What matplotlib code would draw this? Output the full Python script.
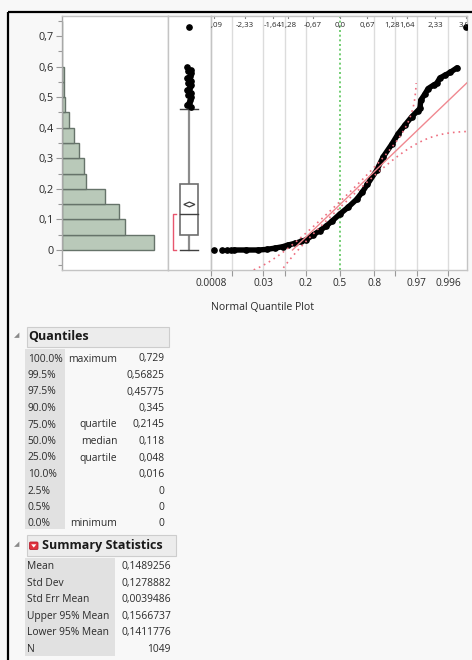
import matplotlib
matplotlib.use("Agg")
import matplotlib.pyplot as plt
import matplotlib.transforms as mtransforms
from matplotlib.patches import Rectangle, Polygon, FancyBboxPatch
from matplotlib.ticker import FixedLocator
import numpy as np
from statistics import NormalDist

plt.rcParams['font.family'] = ['Open Sans', 'DejaVu Sans']

W, H = 472, 660

# histogram, bin width 0.05 (counts)
bin_starts = [0.0, 0.05, 0.10, 0.15, 0.20, 0.25, 0.30, 0.35, 0.40, 0.45, 0.50, 0.55, 0.60, 0.65, 0.70]
bin_counts = [282, 192, 173, 131, 74, 66, 51, 38, 21, 8, 7, 5, 0, 0, 1]

# quantiles table
quant_levels = ["100.0%", "99.5%", "97.5%", "90.0%", "75.0%", "50.0%", "25.0%", "10.0%", "2.5%", "0.5%", "0.0%"]
quant_names = ["maximum", "", "", "", "quartile", "median", "quartile", "", "", "", "minimum"]
quant_values = [0.729, 0.56825, 0.45775, 0.345, 0.2145, 0.118, 0.048, 0.016, 0, 0, 0]

# summary statistics table
summary_labels = ["Mean", "Std Dev", "Std Err Mean", "Upper 95% Mean", "Lower 95% Mean", "N"]
summary_values = [0.1489256, 0.1278882, 0.0039486, 0.1566737, 0.1411776, 1049]

# outlier box plot
whisker_low = 0.0
whisker_high = 0.4625
shortest_half = [0.0, 0.117]
outliers = [0.729, 0.597, 0.590, 0.585, 0.578, 0.570, 0.565, 0.561, 0.553, 0.545, 0.540,
            0.536, 0.528, 0.523, 0.514, 0.507, 0.499, 0.490, 0.481, 0.474, 0.468]

# normal quantile plot (normal quantile, value)
qq_z = [-2.59, -2.3, -2.0, -1.8, -1.6, -1.4, -1.28, -1.1, -0.95, -0.84, -0.67, -0.5, -0.35,
        -0.2, 0.0, 0.2, 0.41, 0.55, 0.67, 0.9, 1.06, 1.28, 1.43, 1.6, 1.76, 1.9, 1.96,
        1.98, 2.08, 2.16, 2.3, 2.37, 2.45, 2.58, 2.7, 2.87]
qq_value = [0.0, 0.0, 0.0, 0.002, 0.006, 0.011, 0.016, 0.022, 0.028, 0.033, 0.048, 0.063, 0.077,
            0.094, 0.118, 0.14, 0.166, 0.19, 0.2145, 0.261, 0.305, 0.348, 0.381, 0.41, 0.436, 0.455, 0.463,
            0.49, 0.51, 0.528, 0.54, 0.545, 0.563, 0.572, 0.581, 0.596]
qq_tail_z = [-3.10, -2.89, -2.76, -2.67, 3.10]
qq_tail_value = [0.0, 0.0, 0.0, 0.0, 0.729]

prob_ticks = [0.0008, 0.004, 0.03, 0.09, 0.2, 0.5, 0.8, 0.91, 0.97, 0.996]
prob_labels = ["0.0008", "", "0.03", "", "0.2", "0.5", "0.8", "", "0.97", "0.996"]
top_z = [-3.09, -2.33, -1.64, -1.28, -0.67, 0.0, 0.67, 1.28, 1.64, 2.33, 3.09]
top_labels = ["-3,09", "-2,33", "-1,64", "-1,28", "-0,67", "0,0", "0,67", "1,28", "1,64", "2,33", "3,09"]
lilliefors_d = 0.03

mean, sd = summary_values[0], summary_values[1]
upper95, lower95 = summary_values[3], summary_values[4]
n_obs = summary_values[5]
q1, med, q3 = quant_values[6], quant_values[5], quant_values[4]


def comma(v):
    return f"{v:g}".replace(".", ",")


def rect(x0, y0, x1, y1):
    return [x0 / W, 1 - y1 / H, (x1 - x0) / W, (y1 - y0) / H]


fig = plt.figure(figsize=(W / 100, H / 100), dpi=100)
fig.patch.set_facecolor('#f8f8f8')

bg = fig.add_axes([0, 0, 1, 1])
bg.set_xlim(0, W)
bg.set_ylim(H, 0)
bg.axis('off')

ylim = (-0.0654, 0.7654)
frame_col = '#c4c4c4'
txt_col = '#2a2a2a'
nd = NormalDist()

# histogram
ax_h = fig.add_axes(rect(62, 16, 168, 270))
ax_h.barh(bin_starts, bin_counts, height=0.05, align='edge',
          color='#b9c9b9', edgecolor='#66736a', linewidth=1)
ax_h.set_xlim(0, 324)
ax_h.set_ylim(*ylim)
ax_h.set_xticks([])
ax_h.yaxis.set_major_locator(FixedLocator([0, 0.1, 0.2, 0.3, 0.4, 0.5, 0.6, 0.7]))
ax_h.set_yticklabels(["0", "0,1", "0,2", "0,3", "0,4", "0,5", "0,6", "0,7"])
ax_h.yaxis.set_minor_locator(FixedLocator([-0.05, 0.05, 0.15, 0.25, 0.35, 0.45, 0.55, 0.65, 0.75]))
ax_h.tick_params(axis='y', which='major', length=4, width=0.8, color='#999999',
                 labelsize=7.8, labelcolor=txt_col, pad=2)
ax_h.tick_params(axis='y', which='minor', length=3, width=0.8, color='#999999')

# box plot
ax_b = fig.add_axes(rect(168, 16, 210.7, 270))
ax_b.set_xlim(-1, 1)
ax_b.set_ylim(*ylim)
ax_b.set_xticks([])
ax_b.set_yticks([])
hw = 0.42
ax_b.plot([0, 0], [q3, whisker_high], color='#8c8c8c', lw=1.6, zorder=2)
ax_b.plot([0, 0], [whisker_low, q1], color='#8c8c8c', lw=1.6, zorder=2)
ax_b.plot([-hw, hw], [whisker_high] * 2, color='#404040', lw=1, zorder=3)
ax_b.plot([-hw, hw], [whisker_low] * 2, color='#404040', lw=1, zorder=3)
ax_b.add_patch(Rectangle((-hw, q1), 2 * hw, q3 - q1, facecolor='white',
                         edgecolor='#6e6e6e', lw=1.2, zorder=3))
ax_b.plot([-hw, hw], [med] * 2, color='#404040', lw=1, zorder=4)
dw = 0.26
ax_b.add_patch(Polygon([(0, upper95), (dw, mean), (0, lower95), (-dw, mean)], closed=True,
                       facecolor='white', edgecolor='#404040', lw=0.9, zorder=4))
bx0, bx1 = -0.77, -0.64
ax_b.plot([bx1, bx0, bx0, bx1], [shortest_half[1], shortest_half[1], shortest_half[0], shortest_half[0]],
          color='#e8566e', lw=1, zorder=3)
jit = np.resize([0.0, -0.09, 0.08, -0.04, 0.1, 0.03], len(outliers))
ax_b.plot(jit, outliers, 'o', color='black', ms=3.8, zorder=5)

# normal quantile plot
ax_q = fig.add_axes(rect(210.7, 16, 467, 270))
ax_q.set_xlim(-3.169, 3.113)
ax_q.set_ylim(*ylim)
tick_z = [nd.inv_cdf(p) for p in prob_ticks]
for z, p in zip(tick_z, prob_ticks):
    if p == 0.5:
        ax_q.axvline(z, color='#5cc65c', lw=1.2, ls=(0, (1.2, 1.6)), zorder=1)
    else:
        ax_q.axvline(z, color='#dcdcdc', lw=1, zorder=1)
ax_q.set_xticks(tick_z)
ax_q.set_xticklabels(prob_labels)
ax_q.set_yticks([])
ax_q.tick_params(axis='x', length=4, width=0.8, color='#999999', labelsize=7.3,
                 labelcolor=txt_col, pad=2)

ax_q.plot(qq_z, qq_value, '-', color='black', lw=3.9, solid_capstyle='round', zorder=3)
ax_q.plot(qq_z, qq_value, 'o', color='black', ms=3.8, zorder=3)
ax_q.plot(qq_tail_z, qq_tail_value, 'o', color='black', ms=3.8, zorder=3, clip_on=True)

# fitted normal line over the data range, with Lilliefors bands over the data ranks
z_start = (quant_values[-1] - mean) / sd
z_line = np.array([z_start, 3.2])
ax_q.plot(z_line, mean + sd * z_line, color='#f08890', lw=1, zorder=4)
q = np.linspace(1 / (n_obs + 1), n_obs / (n_obs + 1), 1500)
band_y = mean + sd * np.array([nd.inv_cdf(v) for v in q])
up = q > lilliefors_d + 1e-4
lo = q < 1 - lilliefors_d - 1e-4
ax_q.plot([nd.inv_cdf(v - lilliefors_d) for v in q[up]], band_y[up],
          color='#ee6f80', lw=1.2, ls=(0, (1, 2.4)), zorder=4)
ax_q.plot([nd.inv_cdf(v + lilliefors_d) for v in q[lo]], band_y[lo],
          color='#ee6f80', lw=1.2, ls=(0, (1, 2.4)), zorder=4)

trans = mtransforms.blended_transform_factory(ax_q.transData, ax_q.transAxes)
for z, lab in zip(top_z, top_labels):
    ax_q.text(z, 0.964, lab, transform=trans, ha='center', va='center', fontsize=5.7,
              color=txt_col, clip_on=True, zorder=6)
    ax_q.plot([z, z], [1.0, 0.992], transform=trans, color='#888888', lw=0.8, clip_on=False)

for ax in (ax_h, ax_b, ax_q):
    for s in ax.spines.values():
        s.set_color(frame_col)
        s.set_linewidth(1)
ax_h.spines['left'].set_color('#a8a8a8')

bg.text(211, 308, "Normal Quantile Plot", ha='left', va='center', fontsize=7.6, color=txt_col)

# outer black frame
bg.plot([8, W], [12, 12], color='black', lw=1.6, solid_capstyle='butt')
bg.plot([8, 8], [12, H], color='black', lw=1.6, solid_capstyle='butt')

# quantiles table
bg.text(16.5, 335, "◢", fontsize=5, color='#8a8a8a', ha='center', va='center', family='DejaVu Sans')
bg.add_patch(Rectangle((26.7, 326.7), 169 - 26.7, 20, facecolor='#ececec', edgecolor='#cdcdcd', lw=0.8))
bg.text(28.5, 337, "Quantiles", fontsize=9, fontweight='bold', color='#1a1a1a', ha='left', va='center')
bg.add_patch(Rectangle((25, 349), 40, 180, facecolor='#e1e1e1', edgecolor='none'))
for i, (lev, name, val) in enumerate(zip(quant_levels, quant_names, quant_values)):
    y = 359 + i * 16.5
    bg.text(27.7, y, lev, fontsize=7.4, color=txt_col, ha='left', va='center')
    if name:
        bg.text(117.3, y, name, fontsize=7.4, color=txt_col, ha='right', va='center')
    bg.text(164.3, y, comma(val), fontsize=7.4, color=txt_col, ha='right', va='center')

# summary statistics table
bg.text(16.5, 544, "◢", fontsize=5, color='#8a8a8a', ha='center', va='center', family='DejaVu Sans')
bg.add_patch(Rectangle((26.7, 535), 175.7 - 26.7, 20.7, facecolor='#ececec', edgecolor='#cdcdcd', lw=0.8))
bg.add_patch(FancyBboxPatch((29.5, 542), 8.5, 7.5, boxstyle='round,pad=0,rounding_size=1.2',
                            facecolor='#e0303c', edgecolor='#b82030', lw=0.6))
bg.add_patch(Polygon([(31.2, 544.3), (36.3, 544.3), (33.75, 547.6)], closed=True,
                     facecolor='white', edgecolor='none'))
bg.text(42.3, 546, "Summary Statistics", fontsize=9, fontweight='bold', color='#1a1a1a',
        ha='left', va='center')
bg.add_patch(Rectangle((25, 557.7), 90, 98.3, facecolor='#e1e1e1', edgecolor='none'))
for i, (lab, val) in enumerate(zip(summary_labels, summary_values)):
    y = 566.7 + i * 16.5
    s = str(val) if isinstance(val, int) else f"{val:.7f}".replace(".", ",")
    bg.text(27.3, y, lab, fontsize=7.4, color=txt_col, ha='left', va='center')
    bg.text(171, y, s, fontsize=7.4, color=txt_col, ha='right', va='center')

fig.savefig("out.png", dpi=100, facecolor=fig.get_facecolor())
